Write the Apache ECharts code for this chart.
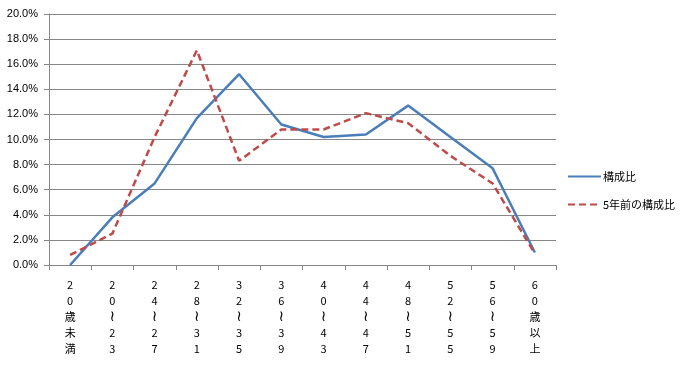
<!DOCTYPE html>
<head>
  <meta charset="utf-8">
  <title>構成比</title>
  <script src="https://cdn.jsdelivr.net/npm/echarts@6/dist/echarts.min.js"></script>
  <style>
    html, body { margin: 0; padding: 0; background: #fff; }
  </style>
</head>
<body>
  <div id="main" style="width: 690px;height:377px;"></div>
  <script>
    // age groups and the two share series (percent)
    var categories = ['20歳未満', '20～23', '24～27', '28～31', '32～35', '36～39',
                      '40～43', '44～47', '48～51', '52～55', '56～59', '60歳以上'];
    var current = [0.0, 3.8, 6.5, 11.7, 15.2, 11.2, 10.2, 10.4, 12.7, 10.2, 7.7, 1.0];
    var fiveYearsAgo = [0.8, 2.5, 10.2, 17.1, 8.3, 10.8, 10.8, 12.1, 11.3, 8.7, 6.5, 0.9];
    var yTicks = [0, 2, 4, 6, 8, 10, 12, 14, 16, 18, 20];

    var myChart = echarts.init(document.getElementById('main'));

    var font = '"Liberation Sans", "Noto Sans CJK JP", sans-serif';

    // stack the characters vertically, the tilde drawn as a vertical wave
    function vertical(label) {
      return label.split('').map(function (c) {
        return c === '～' ? '{w|≀}' : c;
      }).join('\n');
    }

    option = {
      animation: false,
      textStyle: { fontFamily: font },
      grid: { left: 49, right: 134, top: 14, bottom: 112 },
      legend: {
        orient: 'vertical',
        left: 562,
        top: 166,
        itemWidth: 33,
        itemHeight: 10,
        itemGap: 17,
        itemStyle: { color: 'transparent', borderWidth: 0 },
        textStyle: { fontSize: 11, color: '#000', padding: [0, 0, 0, -3],
                     fontFamily: '"Noto Sans CJK JP", sans-serif' },
        data: ['構成比', '5年前の構成比']
      },
      xAxis: {
        type: 'category',
        data: categories,
        boundaryGap: true,
        axisLine: { lineStyle: { color: '#868686' } },
        axisTick: { show: true, length: 5, lineStyle: { color: '#868686' } },
        axisLabel: {
          interval: 0,
          margin: 12,
          fontSize: 11,
          lineHeight: 16,
          color: '#000',
          fontFamily: '"Noto Sans CJK JP", sans-serif',
          formatter: vertical,
          rich: {
            w: { fontSize: 15, lineHeight: 16, fontFamily: '"DejaVu Sans", sans-serif', color: '#000' }
          }
        }
      },
      yAxis: {
        type: 'value',
        min: yTicks[0],
        max: yTicks[yTicks.length - 1],
        interval: 2,
        axisLine: { show: true, lineStyle: { color: '#868686' } },
        axisTick: { show: true, length: 5, lineStyle: { color: '#868686' } },
        splitLine: { lineStyle: { color: '#878787', width: 1 } },
        axisLabel: {
          fontSize: 11,
          color: '#000',
          margin: 11,
          formatter: function (v) { return v.toFixed(1) + '%'; }
        }
      },
      series: [
        {
          name: '構成比',
          type: 'line',
          data: current,
          symbol: 'none',
          itemStyle: { color: '#4A7EBB' },
          lineStyle: { color: '#4A7EBB', width: 2.5 }
        },
        {
          name: '5年前の構成比',
          type: 'line',
          data: fiveYearsAgo,
          symbol: 'none',
          itemStyle: { color: '#BE4B48' },
          lineStyle: { color: '#BE4B48', width: 2.5, type: [7, 4] }
        }
      ]
    };

    myChart.setOption(option);
  </script>
</body>
